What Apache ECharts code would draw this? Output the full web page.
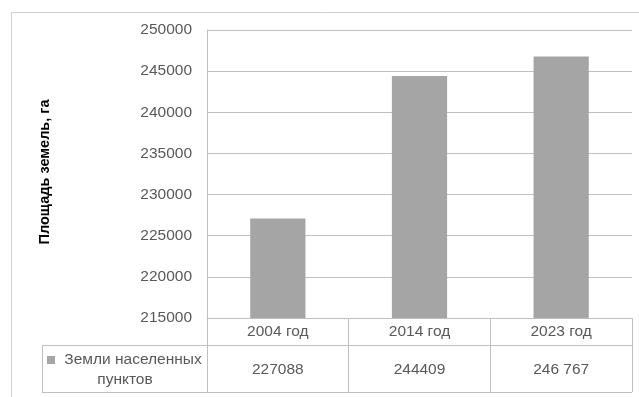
<!DOCTYPE html>
<html>
<head>
<meta charset="utf-8">
<script src="https://cdn.jsdelivr.net/npm/echarts@6/dist/echarts.min.js"></script>
<style>
  html, body { margin: 0; padding: 0; background: #fff; }
  #chart { width: 639px; height: 397px; }
</style>
</head>
<body>
<div id="chart"></div>
<script>
// Land area of settlements by year
const categories = ['2004 год', '2014 год', '2023 год'];
const areaValues = [227088, 244409, 246767];
const tableLabels = ['227088', '244409', '246 767'];
const seriesName = 'Земли населенных пунктов';
const yTitle = 'Площадь земель, га';

const FONT = '"Liberation Sans", Arial, sans-serif';
const TEXT = '#595959';
const LINE = '#bfbfbf';
const BAR = '#a5a5a5';
const FS = 15.5;

// layout of the plot and the data table under it
const gridLeft = 207, gridTop = 30, gridRight = 632, gridBottom = 318;
const rowSplit = 345, tableBottom = 392, tableLeft = 42;

const chart = echarts.init(document.getElementById('chart'));
chart.setOption({
  animation: false,
  grid: { left: gridLeft, top: gridTop, width: gridRight - gridLeft, height: gridBottom - gridTop },
  xAxis: [
    {
      type: 'category',
      data: categories,
      position: 'bottom',
      axisLine: { show: true, lineStyle: { color: LINE, width: 1 } },
      axisTick: { show: true, alignWithLabel: false, interval: 0, length: tableBottom - gridBottom, lineStyle: { color: LINE } },
      axisLabel: { color: TEXT, fontFamily: FONT, fontSize: FS, margin: 6 }
    },
    {
      type: 'category',
      data: tableLabels,
      position: 'bottom',
      offset: rowSplit - gridBottom,
      axisLine: { show: false },
      axisTick: { show: false },
      axisLabel: { color: TEXT, fontFamily: FONT, fontSize: FS, margin: 17 }
    }
  ],
  yAxis: {
    type: 'value',
    min: 215000,
    max: 250000,
    interval: 5000,
    axisLine: { show: true, lineStyle: { color: LINE } },
    axisTick: { show: false },
    splitLine: { lineStyle: { color: LINE, width: 1 } },
    axisLabel: { color: TEXT, fontFamily: FONT, fontSize: FS, margin: 15, formatter: v => String(v) }
  },
  series: [{
    name: seriesName,
    type: 'bar',
    data: areaValues,
    barWidth: '39%',
    itemStyle: { color: BAR }
  }],
  graphic: [
    // outer chart frame
    { type: 'rect', silent: true, shape: { x: 11.5, y: 12.5, width: 700, height: 500 },
      style: { fill: null, stroke: '#d0d0d0', lineWidth: 1 }, z: -1 },
    // y-axis line continues through the table
    { type: 'line', silent: true, shape: { x1: gridLeft + 0.5, y1: gridBottom, x2: gridLeft + 0.5, y2: tableBottom },
      style: { stroke: LINE, lineWidth: 1 } },
    // table rules
    { type: 'line', silent: true, shape: { x1: tableLeft, y1: rowSplit + 0.5, x2: gridRight, y2: rowSplit + 0.5 },
      style: { stroke: LINE, lineWidth: 1 } },
    { type: 'line', silent: true, shape: { x1: tableLeft, y1: tableBottom + 0.5, x2: gridRight, y2: tableBottom + 0.5 },
      style: { stroke: LINE, lineWidth: 1 } },
    { type: 'line', silent: true, shape: { x1: tableLeft + 0.5, y1: rowSplit, x2: tableLeft + 0.5, y2: tableBottom },
      style: { stroke: LINE, lineWidth: 1 } },
    { type: 'line', silent: true, shape: { x1: gridRight + 0.5, y1: gridBottom, x2: gridRight + 0.5, y2: tableBottom },
      style: { stroke: LINE, lineWidth: 1 } },
    // legend key and series name in the table
    { type: 'rect', silent: true, shape: { x: 47, y: 356, width: 8, height: 8 }, style: { fill: BAR } },
    { type: 'text', silent: true, x: 133, y: 360,
      style: { text: 'Земли населенных', fill: TEXT, font: FS + 'px ' + FONT, align: 'center', verticalAlign: 'middle' } },
    { type: 'text', silent: true, x: 125, y: 380,
      style: { text: 'пунктов', fill: TEXT, font: FS + 'px ' + FONT, align: 'center', verticalAlign: 'middle' } },
    // y-axis title
    { type: 'text', silent: true, x: 45, y: 172, rotation: Math.PI / 2,
      style: { text: yTitle, fill: '#000', font: 'bold 14.5px ' + FONT, align: 'center', verticalAlign: 'middle' } }
  ]
});
</script>
</body>
</html>
